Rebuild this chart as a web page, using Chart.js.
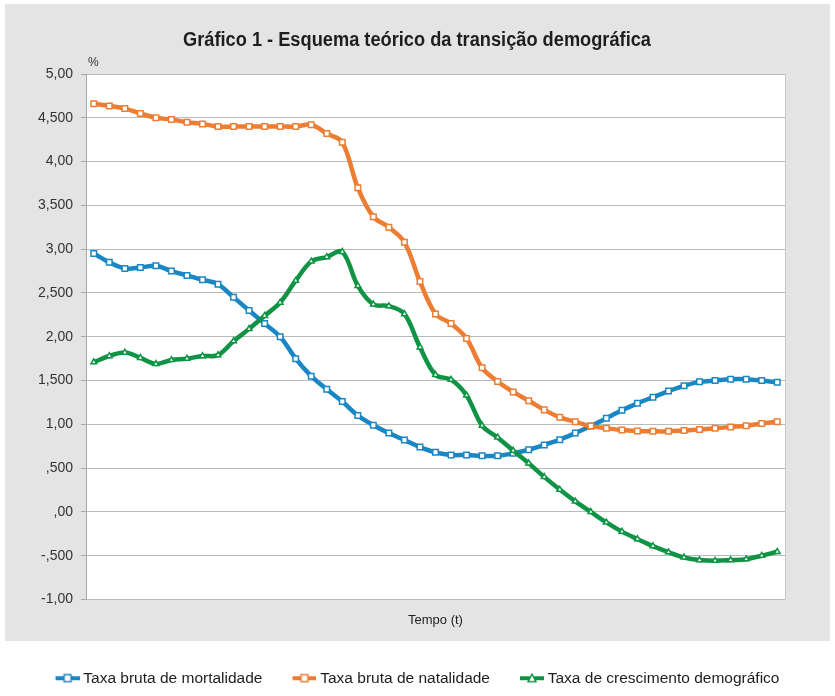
<!DOCTYPE html>
<html><head><meta charset="utf-8">
<script src="https://cdn.jsdelivr.net/npm/chart.js@4.4.1/dist/chart.umd.min.js"></script>
<style>html,body{margin:0;padding:0;background:#fff;overflow:hidden}#wrap{width:835px;height:696px;position:relative}</style>
</head><body><div id="wrap"><canvas id="c"></canvas></div>
<script>
// ---- Data ----
const categories = ['t1','t2','t3','t4','t5','t6','t7','t8','t9','t10','t11','t12','t13','t14','t15','t16','t17','t18','t19','t20','t21','t22','t23','t24','t25','t26','t27','t28','t29','t30','t31','t32','t33','t34','t35','t36','t37','t38','t39','t40','t41','t42','t43','t44','t45'];
const seriesNames = ['Taxa bruta de mortalidade','Taxa bruta de natalidade','Taxa de crescimento demográfico'];
const mortalidade = [2.95,2.85,2.78,2.79,2.81,2.75,2.70,2.65,2.60,2.45,2.30,2.15,2.00,1.75,1.55,1.40,1.26,1.10,0.99,0.90,0.82,0.74,0.68,0.65,0.65,0.64,0.64,0.67,0.71,0.765,0.825,0.90,0.98,1.07,1.16,1.24,1.31,1.38,1.44,1.485,1.50,1.515,1.515,1.50,1.48];
const natalidade = [4.66,4.635,4.605,4.55,4.50,4.48,4.45,4.43,4.40,4.40,4.40,4.40,4.40,4.40,4.42,4.32,4.22,3.70,3.37,3.25,3.08,2.63,2.26,2.15,1.98,1.645,1.49,1.37,1.27,1.165,1.08,1.03,0.98,0.955,0.935,0.925,0.92,0.92,0.93,0.94,0.955,0.97,0.985,1.01,1.03];
const crescimento = [1.71,1.78,1.82,1.76,1.69,1.735,1.75,1.78,1.79,1.95,2.09,2.24,2.39,2.64,2.86,2.91,2.97,2.58,2.37,2.35,2.26,1.88,1.565,1.51,1.33,0.985,0.85,0.70,0.555,0.40,0.255,0.12,0.00,-0.12,-0.225,-0.31,-0.39,-0.46,-0.52,-0.55,-0.557,-0.55,-0.54,-0.50,-0.455];
const yTickValues = [5,4.5,4,3.5,3,2.5,2,1.5,1,0.5,0,-0.5,-1];
const yTickLabels = ['5,00','4,500','4,00','3,500','3,00','2,500','2,00','1,500','1,00',',500',',00','-,500','-1,00'];
const chartTitle = 'Gráfico 1 - Esquema teórico da transição demográfica';
const yUnit = '%';
const xTitle = 'Tempo (t)';

// ---- Styles ----
const COLORS = ['#1a87c5','#ec7d32','#0f9446'];
const FONT = "'Liberation Sans', Arial, Helvetica, sans-serif";

function legendIcon(color, shape) {
  const c = document.createElement('canvas');
  c.width = 56; c.height = 10;
  const g = c.getContext('2d');
  g.strokeStyle = color; g.lineWidth = 4;
  g.beginPath(); g.moveTo(32,5); g.lineTo(56,5); g.stroke();
  g.fillStyle = '#fff'; g.lineWidth = 1.5;
  if (shape === 'rect') {
    g.fillRect(40.5,1.5,7,7); g.strokeRect(40.5,1.5,7,7);
  } else {
    g.beginPath(); g.moveTo(44,1); g.lineTo(48,8.5); g.lineTo(40,8.5); g.closePath(); g.fill(); g.stroke();
  }
  return c;
}
const icons = [legendIcon(COLORS[0],'rect'), legendIcon(COLORS[1],'rect'), legendIcon(COLORS[2],'tri')];

const bgPlugin = {
  id: 'bg',
  beforeDraw(chart) {
    const {ctx, chartArea: a} = chart;
    ctx.save();
    ctx.fillStyle = '#ffffff';
    ctx.fillRect(0,0,chart.width,chart.height);
    ctx.fillStyle = '#e4e4e4';
    ctx.fillRect(5,4,825,637);
    ctx.fillStyle = '#ffffff';
    ctx.fillRect(a.left, a.top, a.right - a.left, a.bottom - a.top);
    ctx.strokeStyle = '#c8c8c8'; ctx.lineWidth = 1;
    ctx.beginPath(); ctx.moveTo(a.right + 0.5, a.top); ctx.lineTo(a.right + 0.5, a.bottom); ctx.stroke();
    // unit label
    ctx.fillStyle = '#333';
    ctx.font = "12px " + FONT;
    ctx.textAlign = 'left'; ctx.textBaseline = 'middle';
    ctx.fillText(yUnit, a.left + 2, a.top - 11);
    // condensed bold title
    ctx.font = "bold 20px " + FONT;
    const w = ctx.measureText(chartTitle).width;
    const sx = 468 / w;
    ctx.translate(417, 40);
    ctx.scale(sx, 1);
    ctx.fillStyle = '#1e1e1e';
    ctx.textAlign = 'center';
    ctx.fillText(chartTitle, 0, 0);
    ctx.restore();
  }
};

function ds(label, data, color, style, radius, order) {
  return {
    label, data, borderColor: color, backgroundColor: color,
    borderWidth: 4.5, tension: 0.35, fill: false,
    pointStyle: style, pointRadius: radius, pointHoverRadius: radius,
    pointBackgroundColor: '#ffffff', pointBorderColor: color, pointBorderWidth: 1.5,
    order
  };
}

new Chart(document.getElementById('c'), {
  type: 'line',
  data: {
    labels: categories,
    datasets: [
      ds(seriesNames[0], mortalidade, COLORS[0], 'rect', 3.9, 3),
      ds(seriesNames[1], natalidade, COLORS[1], 'rect', 3.9, 2),
      ds(seriesNames[2], crescimento, COLORS[2], 'triangle', 3.3, 1)
    ]
  },
  options: {
    responsive: true, maintainAspectRatio: false, animation: false,
    layout: { padding: { left: 22, right: 50, top: 74, bottom: 0 } },
    plugins: {
      title: { display: false },
      legend: {
        position: 'bottom',
        labels: {
          usePointStyle: true, pointStyleWidth: 48,
          color: '#1e1e1e', font: { family: FONT, size: 15.5 }, padding: 2,
          sort: (a,b) => a.datasetIndex - b.datasetIndex,
          generateLabels(chart) {
            const items = Chart.defaults.plugins.legend.labels.generateLabels(chart);
            items.forEach(it => { it.pointStyle = icons[it.datasetIndex]; });
            return items;
          }
        }
      },
      tooltip: { enabled: false }
    },
    scales: {
      x: {
        offset: true,
        grid: { display: false },
        border: { display: false },
        ticks: { display: false },
        title: { display: true, text: xTitle, color: '#1e1e1e', font: { family: FONT, size: 13 }, padding: { top: 0, bottom: 40 } },
        afterFit(s) { s.height = 69; }
      },
      y: {
        min: -1, max: 5,
        afterBuildTicks(s) { s.ticks = yTickValues.map(v => ({ value: v })); },
        ticks: {
          color: '#333', font: { family: FONT, size: 14 }, padding: 8,
          callback(v) { const i = yTickValues.findIndex(t => Math.abs(t - v) < 1e-9); return i >= 0 ? yTickLabels[i] : ''; }
        },
        grid: { color: '#b9b9b9', lineWidth: 1, drawTicks: true, tickLength: 5, tickColor: '#a8a8a8' },
        border: { display: true, color: '#a8a8a8' },
        afterFit(s) { s.width = 64; }
      }
    }
  },
  plugins: [bgPlugin]
});
</script>
</body></html>
